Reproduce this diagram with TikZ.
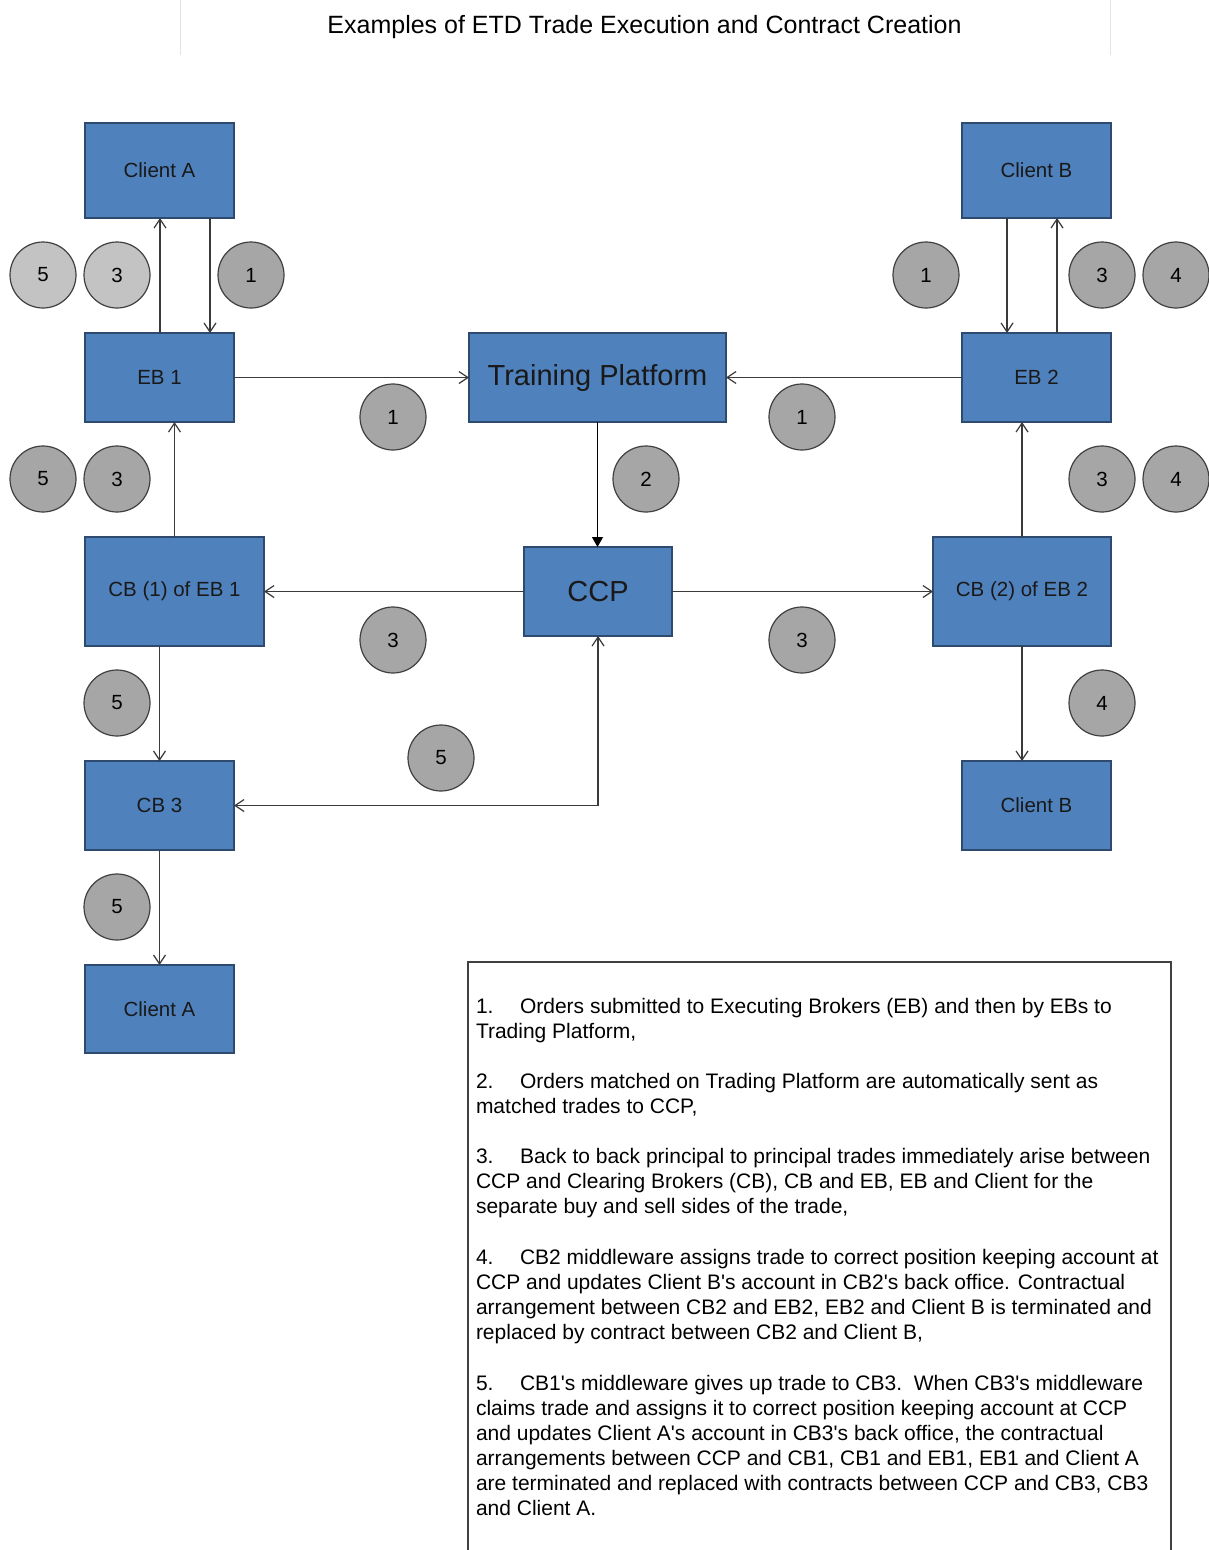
\documentclass[tikz,border=0pt]{standalone}
\usepackage{fontspec}
\setmainfont{Liberation Sans}[Ligatures=TeXOff]
\usetikzlibrary{arrows.meta}
\definecolor{boxblue}{HTML}{4F81BD}
\definecolor{boxedge}{HTML}{2E4A6E}
\definecolor{disc}{HTML}{A6A6A6}
\definecolor{disclight}{HTML}{C3C3C3}
\definecolor{wire}{HTML}{3A3A3A}
\definecolor{rule}{HTML}{E4E4E4}
\newcommand\itemno[1]{\makebox[44pt][l]{#1}}
\begin{document}
\begin{tikzpicture}[x=1pt,y=-1pt,
  entity/.style={draw=boxedge, line width=1.3pt, fill=boxblue, inner sep=0pt,
    outer sep=0pt, text=black!90, font=\fontsize{20.5}{24}\selectfont},
  bignode/.style={entity, font=\fontsize{29}{32}\selectfont},
  badge/.style={circle, draw=black!75, line width=1.2pt, fill=disc,
    minimum size=66pt, inner sep=0pt, font=\fontsize{20.5}{24}\selectfont},
  badgelight/.style={badge, fill=disclight},
  link/.style={draw=wire, line width=1.2pt, -{Straight Barb[length=9pt,width=12pt]}},
  biglink/.style={draw=black, line width=1.2pt, -{Triangle[length=10pt,width=11pt]}},
  noteline/.style={anchor=base west, inner sep=0pt, outer sep=0pt,
    font=\fontsize{21}{25}\selectfont}
]
\useasboundingbox (0,0) rectangle (1208,1550);

% heading and its faint side rules
\draw[rule, line width=1pt] (180,0) -- (180,55);
\draw[rule, line width=1pt] (1110,0) -- (1110,55);
\node[anchor=base, inner sep=0pt, font=\fontsize{25}{28}\selectfont] (title) at (644.5,33.5)
  {Examples of ETD Trade Execution and Contract Creation};

% parties
\node[entity, minimum width=149pt, minimum height=95pt] (cat) at (159.5,170.5) {Client A};
\node[entity, minimum width=149pt, minimum height=95pt] (cbt) at (1036.5,170.5) {Client B};
\node[entity, minimum width=149pt, minimum height=89pt] (eb1) at (159.5,377.5) {EB 1};
\node[bignode, minimum width=257pt, minimum height=89pt] (tp) at (597.5,377.5) {Training Platform};
\node[entity, minimum width=149pt, minimum height=89pt] (eb2) at (1036.5,377.5) {EB 2};
\node[entity, minimum width=179pt, minimum height=109pt] (cb1) at (174.5,591.5) {CB (1) of EB 1};
\node[bignode, minimum width=148pt, minimum height=89pt] (ccp) at (598,591.5) {CCP};
\node[entity, minimum width=178pt, minimum height=109pt] (cb2) at (1022,591.5) {CB (2) of EB 2};
\node[entity, minimum width=149pt, minimum height=89pt] (cb3) at (159.5,805.5) {CB 3};
\node[entity, minimum width=149pt, minimum height=89pt] (cbb) at (1036.5,805.5) {Client B};
\node[entity, minimum width=149pt, minimum height=88pt] (cab) at (159.5,1009) {Client A};

% flows
\draw[link] ([xshift=0.5pt]eb1.north) -- ([xshift=0.5pt]cat.south);
\draw[link] ([xshift=50.5pt]cat.south) -- ([xshift=50.5pt]eb1.north);
\draw[link] ([xshift=-29.5pt]cbt.south) -- ([xshift=-29.5pt]eb2.north);
\draw[link] ([xshift=20.5pt]eb2.north) -- ([xshift=20.5pt]cbt.south);
\draw[link] (eb1.east) -- (tp.west);
\draw[link] (eb2.west) -- (tp.east);
\draw[biglink] (tp.south) -- (tp.south |- ccp.north);
\draw[link] (cb1.north) -- (cb1.north |- eb1.south);
\draw[link] (cb2.north) -- (cb2.north |- eb2.south);
\draw[link] (ccp.west) -- (cb1.east);
\draw[link] (ccp.east) -- (cb2.west);
\draw[link] (cb1.south -| cb3.north) -- (cb3.north);
\draw[link] (cb2.south) -- (cb2.south |- cbb.north);
\draw[link, {Straight Barb[length=9pt,width=12pt]}-{Straight Barb[length=9pt,width=12pt]}]
  (ccp.south) |- (cb3.east);
\draw[link] (cb3.south) -- (cab.north);

% step badges
\node[badgelight] (s5a) at (43,275) {5};
\node[badgelight] (s3a) at (117,275) {3};
\node[badge] (s1a) at (251,275) {1};
\node[badge] (s1b) at (926,275) {1};
\node[badge] (s3b) at (1102,275) {3};
\node[badge] (s4b) at (1176,275) {4};
\node[badge] (s1c) at (393,417) {1};
\node[badge] (s1d) at (802,417) {1};
\node[badge] (s2) at (646,479) {2};
\node[badge] (s5c) at (43,479) {5};
\node[badge] (s3c) at (117,479) {3};
\node[badge] (s3d) at (1102,479) {3};
\node[badge] (s4d) at (1176,479) {4};
\node[badge] (s3e) at (393,640) {3};
\node[badge] (s3f) at (802,640) {3};
\node[badge] (s5e) at (117,703) {5};
\node[badge] (s4e) at (1102,703) {4};
\node[badge] (s5f) at (441,758) {5};
\node[badge] (s5g) at (117,907) {5};

% explanatory notes
\draw[black!75, line width=1.2pt] (468,1570) -- (468,962) -- (1171,962) -- (1171,1570);
\node[noteline] (n1a) at (476,1013.5) {\itemno{1.}Orders submitted to Executing Brokers (EB) and then by EBs to};
\node[noteline] (n1b) at (476,1038.5) {Trading Platform,};
\node[noteline] (n2a) at (476,1088.5) {\itemno{2.}Orders matched on Trading Platform are automatically sent as};
\node[noteline] (n2b) at (476,1113.5) {matched trades to CCP,};
\node[noteline] (n3a) at (476,1163.5) {\itemno{3.}Back to back principal to principal trades immediately arise between};
\node[noteline] (n3b) at (476,1188.5) {CCP and Clearing Brokers (CB), CB and EB, EB and Client for the};
\node[noteline] (n3c) at (476,1213.5) {separate buy and sell sides of the trade,};
\node[noteline] (n4a) at (476,1264.5) {\itemno{4.}CB2 middleware assigns trade to correct position keeping account at};
\node[noteline] (n4b) at (476,1289.5) {CCP and updates Client B's account in CB2's back office. Contractual};
\node[noteline] (n4c) at (476,1314.5) {arrangement between CB2 and EB2, EB2 and Client B is terminated and};
\node[noteline] (n4d) at (476,1339.5) {replaced by contract between CB2 and Client B,};
\node[noteline] (n5a) at (476,1390.5) {\itemno{5.}CB1's middleware gives up trade to CB3.\ \ When CB3's middleware};
\node[noteline] (n5b) at (476,1415.5) {claims trade and assigns it to correct position keeping account at CCP};
\node[noteline] (n5c) at (476,1440.5) {and updates Client A's account in CB3's back office, the contractual};
\node[noteline] (n5d) at (476,1465.5) {arrangements between CCP and CB1, CB1 and EB1, EB1 and Client A};
\node[noteline] (n5e) at (476,1490.5) {are terminated and replaced with contracts between CCP and CB3, CB3};
\node[noteline] (n5f) at (476,1515.5) {and Client A.};
\end{tikzpicture}
\end{document}
